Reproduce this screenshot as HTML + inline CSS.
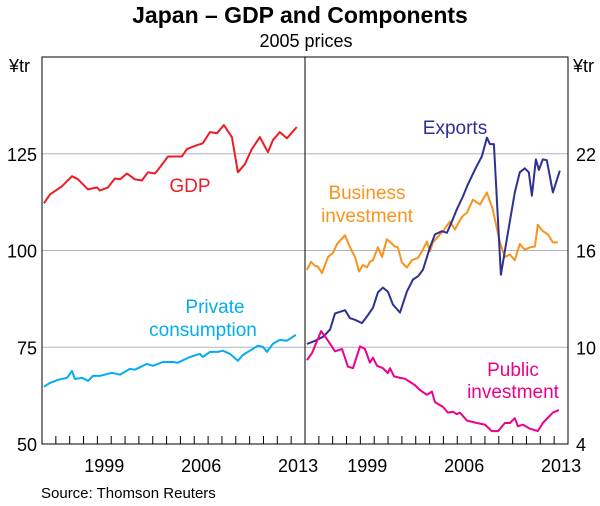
<!DOCTYPE html>
<html><head><meta charset="utf-8">
<style>
html,body{margin:0;padding:0;background:#fff;}
body{width:600px;height:501px;overflow:hidden;font-family:"Liberation Sans",Arial,sans-serif;}
svg text{font-family:"Liberation Sans",Arial,sans-serif;}
</style></head>
<body>
<svg id="chart" width="600" height="501" viewBox="0 0 600 501" xmlns="http://www.w3.org/2000/svg">
  <text x="300" y="23" text-anchor="middle" font-size="23" font-weight="bold" fill="#000">Japan – GDP and Components</text>
  <text x="306" y="47" text-anchor="middle" font-size="18" fill="#000">2005 prices</text>
  <text x="9" y="72" font-size="18" fill="#000">¥tr</text>
  <text x="573" y="72" font-size="18" fill="#000">¥tr</text>
  <g id="grid"></g>
  <g id="series"></g>
  <g id="frame"></g>
  <g id="ticks"></g>
  <text x="190" y="192" text-anchor="middle" font-size="19" fill="#ee1c25">GDP</text>
  <text x="215" y="313" text-anchor="middle" font-size="19" fill="#00aeef">Private</text>
  <text x="203" y="336" text-anchor="middle" font-size="19" fill="#00aeef">consumption</text>
  <text x="455" y="134" text-anchor="middle" font-size="19" fill="#2e3192">Exports</text>
  <text x="367" y="199" text-anchor="middle" font-size="19" fill="#f7941d">Business</text>
  <text x="367" y="222" text-anchor="middle" font-size="19" fill="#f7941d">investment</text>
  <text x="513" y="376" text-anchor="middle" font-size="19" fill="#ec008c">Public</text>
  <text x="513" y="398" text-anchor="middle" font-size="19" fill="#ec008c">investment</text>
  <text x="41" y="498" font-size="15" fill="#000">Source: Thomson Reuters</text>
</svg>
<script>
const leftTicks = [50, 75, 100, 125];
const rightTicks = [4, 10, 16, 22];
const yearLabels = [1999, 2006, 2013];
// time offsets are years since 1995
const gdpT = [.14,.58,1.44,2.17,2.6,3.32,3.97,4.19,4.77,5.27,5.63,6.14,6.71,7.22,7.65,8.16,8.52,9.1,9.75,10.11,10.47,11.19,11.62,12.13,12.64,13.14,13.72,14.15,14.66,15.16,15.74,16.32,16.68,17.18,17.69,18.41];
const gdpV = [112.2,114.5,116.6,119.2,118.4,115.8,116.3,115.5,116.3,118.6,118.4,119.9,118.4,118.1,120.2,119.9,121.5,124.3,124.3,124.3,126.2,127.2,127.7,130.6,130.3,132.4,129.3,120.2,122.3,126.2,129.3,125.4,128.5,130.6,129,131.9];
const pcT = [.14,.58,1.16,1.81,2.17,2.38,2.89,3.32,3.68,4.19,5.05,5.63,6.35,6.71,7.58,8.01,8.74,9.46,9.82,10.69,11.41,11.62,12.13,12.71,13.07,13.57,14.15,14.51,15.02,15.6,15.96,16.25,16.68,17.18,17.69,18.34];
const pcV = [64.8,65.8,66.6,67.1,68.9,66.8,67.1,66.3,67.6,67.6,68.4,67.9,69.4,69.2,70.7,70.2,71.2,71.2,71,72.5,73.3,72.5,73.8,73.8,74.1,73.3,71.5,73,74.1,75.4,75.1,73.8,75.9,76.9,76.7,78.2];
const exT = [.14,.72,1.3,1.81,2.17,2.89,3.25,3.61,4.12,4.55,4.91,5.27,5.63,5.99,6.35,6.86,7.36,7.8,8.16,8.52,9.03,9.39,9.89,10.25,10.61,10.97,11.41,11.77,12.27,12.78,13.14,13.36,13.65,14.15,14.66,15.16,15.52,15.88,16.17,16.39,16.68,16.9,17.18,17.47,17.91,18.41];
const exV = [10.2,10.4,10.65,11.1,12.1,12.3,11.8,11.7,11.5,12,12.45,13.4,13.7,13.45,12.65,12.15,13.45,14.2,14.4,14.8,16.2,17,17.2,17.1,17.8,18.55,19.35,20.1,21,21.85,23,22.6,22.6,14.5,17.1,19.6,20.85,21.1,20.85,19.4,21.65,21,21.65,21.6,19.6,20.95];
const biT = [.14,.43,.72,.94,1.23,1.66,2.02,2.31,2.89,3.25,3.61,3.9,4.19,4.48,4.69,4.91,5.27,5.56,5.92,6.5,6.71,7,7.36,7.73,8.16,8.45,8.81,9.03,9.24,9.75,9.96,10.47,10.83,11.34,11.7,12.13,12.64,13.14,13.57,14.08,14.44,14.8,15.16,15.52,15.88,16.25,16.61,16.82,17.18,17.55,17.91,18.27];
const biV = [14.8,15.3,15.05,15,14.6,15.6,15.85,16.4,16.95,16.2,15.6,14.7,15.1,14.95,15.3,15.4,16.2,15.6,16.7,16.25,16.2,15.25,14.95,15.4,15.55,15.95,16.55,15.95,16.5,17,17.2,17.8,17.3,18.1,18.35,19.15,18.85,19.6,18.55,16.5,15.6,15.75,15.4,16.4,16.05,16.2,16.25,17.6,17.2,17,16.5,16.5];
const piT = [.14,.51,1.16,1.59,2.17,2.67,3.1,3.47,3.97,4.33,4.69,4.91,5.2,5.63,5.99,6.14,6.43,6.86,7.22,7.58,7.94,8.3,8.81,9.17,9.39,9.96,10.32,10.69,10.97,11.19,11.7,12.42,13,13.5,13.94,14.44,14.8,15.16,15.38,15.74,16.25,16.82,17.18,17.91,18.34];
const piV = [9.2,9.65,11,10.5,9.75,9.9,8.8,8.7,10.05,9.9,9.05,9.35,8.85,8.7,8.4,8.7,8.2,8.1,8.05,7.85,7.65,7.35,7.05,7.25,6.6,6.3,5.95,6,5.85,5.95,5.45,5.3,5.2,4.8,4.8,5.3,5.3,5.6,5.1,5.2,4.95,4.8,5.3,5.95,6.1];

const NS = "http://www.w3.org/2000/svg";
const X0 = 42, XM = 305, X1 = 568, YT = 57, YB = 444;
const YW = (XM - X0) / 19;
const xL = o => X0 + o * YW;
const xR = o => XM + o * YW;
const yL = v => YB - (v - 50) * (YB - YT) / 100;
const yR = v => YB - (v - 4) * (YB - YT) / 24;

function mk(tag, attrs, parent) {
  const e = document.createElementNS(NS, tag);
  for (const k in attrs) e.setAttribute(k, attrs[k]);
  parent.appendChild(e);
  return e;
}
const grid = document.getElementById('grid');
const series = document.getElementById('series');
const frame = document.getElementById('frame');
const ticks = document.getElementById('ticks');

leftTicks.forEach(v => {
  const y = yL(v);
  if (v > 50) {
    const g = mk('line', {x1: X0, x2: X1, y1: y, y2: y, stroke: '#b4b4c4', 'stroke-width': 1}, grid);
    
    
  }
  const t = mk('text', {x: 37, y: y + 7, 'text-anchor': 'end', 'font-size': 18, fill: '#000'}, ticks);
  t.textContent = v;
  
  
});
rightTicks.forEach(v => {
  const t = mk('text', {x: 576, y: yR(v) + 7, 'font-size': 18, fill: '#000'}, ticks);
  t.textContent = v;
  
  
});
for (let i = 1; i < 19; i++) {
  [xL(i), xR(i)].forEach(x => {
    const l = mk('line', {x1: x, x2: x, y1: YB, y2: YB - 8, stroke: '#000', 'stroke-width': 1}, ticks);
    
    
  });
}
yearLabels.forEach(yr => {
  const o = yr - 1995 + 0.5;
  [xL(o), xR(o)].forEach(x => {
    const t = mk('text', {x: x, y: 472, 'text-anchor': 'middle', 'font-size': 18, fill: '#000'}, ticks);
    t.textContent = yr;
    
    
  });
});

function line(T, V, xf, yf, color, name) {
  const d = T.map((o, i) => (i ? 'L' : 'M') + xf(o).toFixed(1) + ',' + yf(V[i]).toFixed(1)).join('');
  const p = mk('path', {d: d, fill: 'none', stroke: color, 'stroke-width': 2, 'stroke-linejoin': 'round'}, series);
  
  
}
line(gdpT, gdpV, xL, yL, '#ee1c25', 'gdp-line');
line(pcT, pcV, xL, yL, '#00aeef', 'private-consumption-line');
line(biT, biV, xR, yR, '#f7941d', 'business-investment-line');
line(exT, exV, xR, yR, '#2e3192', 'exports-line');
line(piT, piV, xR, yR, '#ec008c', 'public-investment-line');

const box = mk('rect', {x: X0, y: YT, width: X1 - X0, height: YB - YT, fill: 'none', stroke: '#000', 'stroke-width': 1}, frame);


const div = mk('line', {x1: XM, x2: XM, y1: YT, y2: YB, stroke: '#000', 'stroke-width': 1}, frame);


</script>
</body></html>
